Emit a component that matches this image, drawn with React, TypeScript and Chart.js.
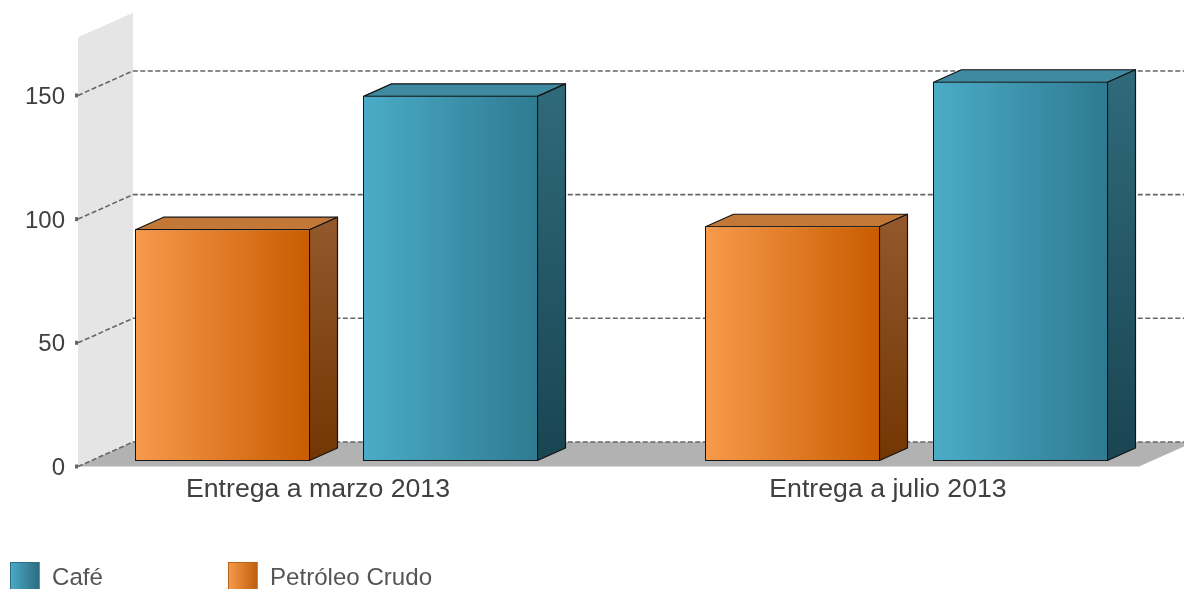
import React, { useEffect, useRef } from "react";
import { Chart, registerables } from "chart.js";

Chart.register(...registerables);

const categories = ["Entrega a marzo 2013", "Entrega a julio 2013"];
const petroleoValues = [93.7, 94.9];
const cafeValues = [147.6, 153.3];
const seriesNames = ["Petróleo Crudo", "Café"];
const yTickStep = 50;
const yMax = 173.5;

const FONT = '"Liberation Sans", Arial, sans-serif';
const WALL = { dx: 55, dy: -24.5 };
const BAR_SHIFT = { x: 18.5, y: -5.5 };
const BAR_DEPTH = { dx: 28, dy: -12.5 };
const SLOT = 228;
const BAR_W = 175;

const palette: Record<string, any> = {
  [seriesNames[0]]: {
    left: "#f89a4c",
    right: "#c85c00",
    top: "#c47838",
    sideTop: "#93592c",
    sideBottom: "#733603",
    swatchRight: "#bf5c0c",
    swatchBorder: "#b9621a",
  },
  [seriesNames[1]]: {
    left: "#4bacc7",
    right: "#2e7a91",
    top: "#3f8aa1",
    sideTop: "#2f6a7b",
    sideBottom: "#1a4552",
    swatchRight: "#2a6a7e",
    swatchBorder: "#2c7086",
  },
};

const frontGradient = (name: string, seriesIndex: number) => (c: any) => {
  const chart = c.chart;
  const xs = chart.scales.x;
  const cx = xs.getPixelForTick(c.dataIndex ?? 0) + (seriesIndex === 0 ? -SLOT / 2 : SLOT / 2);
  const g = chart.ctx.createLinearGradient(cx - BAR_W / 2, 0, cx + BAR_W / 2, 0);
  g.addColorStop(0, palette[name].left);
  g.addColorStop(1, palette[name].right);
  return g;
};

const scene3d = {
  id: "scene3d",
  beforeDatasetsDraw(chart: any) {
    const { ctx, scales } = chart;
    const y = scales.y;
    const x0 = 78;
    const y0 = y.getPixelForValue(0);
    const yTop = y.getPixelForValue(yMax);
    const xFloorRight = 1139;
    ctx.save();
    ctx.fillStyle = "#e5e5e5";
    ctx.beginPath();
    ctx.moveTo(x0, yTop);
    ctx.lineTo(x0 + WALL.dx, yTop + WALL.dy);
    ctx.lineTo(x0 + WALL.dx, y0 + WALL.dy);
    ctx.lineTo(x0, y0);
    ctx.closePath();
    ctx.fill();
    ctx.fillStyle = "#b2b2b2";
    ctx.beginPath();
    ctx.moveTo(x0, y0);
    ctx.lineTo(x0 + WALL.dx, y0 + WALL.dy);
    ctx.lineTo(xFloorRight + WALL.dx, y0 + WALL.dy);
    ctx.lineTo(xFloorRight, y0);
    ctx.closePath();
    ctx.fill();
    ctx.strokeStyle = "#666666";
    ctx.fillStyle = "#666666";
    ctx.lineWidth = 1.6;
    ctx.setLineDash([5, 2.5]);
    y.ticks.forEach((t: any) => {
      const py = y.getPixelForValue(t.value);
      ctx.beginPath();
      ctx.moveTo(x0, py);
      ctx.lineTo(x0 + WALL.dx, py + WALL.dy);
      ctx.lineTo(1184, py + WALL.dy);
      ctx.stroke();
      ctx.fillRect(x0 - 3, py - 2, 3, 4);
    });
    ctx.restore();
  },
  beforeDatasetDraw(chart: any, args: any) {
    const { ctx } = chart;
    const p = palette[chart.data.datasets[args.index].label];
    ctx.save();
    ctx.translate(BAR_SHIFT.x, BAR_SHIFT.y);
    args.meta.data.forEach((el: any) => {
      const l = el.x - el.width / 2 + 0.5;
      const r = el.x + el.width / 2 - 0.5;
      const t = el.y + 0.5;
      const b = el.base - 0.5;
      const { dx, dy } = BAR_DEPTH;
      ctx.lineWidth = 1.2;
      ctx.lineJoin = "round";
      ctx.strokeStyle = "#141414";
      ctx.fillStyle = p.top;
      ctx.beginPath();
      ctx.moveTo(l, t);
      ctx.lineTo(l + dx, t + dy);
      ctx.lineTo(r + dx, t + dy);
      ctx.lineTo(r, t);
      ctx.closePath();
      ctx.fill();
      ctx.stroke();
      const g = ctx.createLinearGradient(0, t + dy, 0, b);
      g.addColorStop(0, p.sideTop);
      g.addColorStop(1, p.sideBottom);
      ctx.fillStyle = g;
      ctx.beginPath();
      ctx.moveTo(r, t);
      ctx.lineTo(r + dx, t + dy);
      ctx.lineTo(r + dx, b + dy);
      ctx.lineTo(r, b);
      ctx.closePath();
      ctx.fill();
      ctx.stroke();
    });
  },
  afterDatasetDraw(chart: any) {
    chart.ctx.restore();
  },
  afterDraw(chart: any) {
    const { ctx } = chart;
    const names = chart.data.datasets.map((d: any) => d.label).reverse();
    const xs = [10, 228];
    ctx.save();
    names.forEach((name: string, i: number) => {
      const p = palette[name];
      const g = ctx.createLinearGradient(xs[i], 0, xs[i] + 30, 0);
      g.addColorStop(0, p.left);
      g.addColorStop(1, p.swatchRight);
      ctx.fillStyle = g;
      ctx.fillRect(xs[i], 562, 29.5, 30);
      ctx.strokeStyle = p.swatchBorder;
      ctx.lineWidth = 1;
      ctx.strokeRect(xs[i] + 0.5, 562.5, 28.5, 30);
      ctx.fillStyle = "#555555";
      ctx.font = `24.1px ${FONT}`;
      ctx.textAlign = "left";
      ctx.textBaseline = "alphabetic";
      ctx.fillText(name, xs[i] + 42, 584.5);
    });
    ctx.restore();
  },
};

export default function App() {
  const ref = useRef<HTMLCanvasElement | null>(null);
  useEffect(() => {
    const chart = new Chart(ref.current as HTMLCanvasElement, {
      type: "bar",
      data: {
        labels: categories,
        datasets: [
          {
            label: seriesNames[0],
            data: petroleoValues,
            backgroundColor: frontGradient(seriesNames[0], 0),
            borderColor: "#141414",
            borderWidth: 1,
            borderSkipped: false,
            clip: false,
          },
          {
            label: seriesNames[1],
            data: cafeValues,
            backgroundColor: frontGradient(seriesNames[1], 1),
            borderColor: "#141414",
            borderWidth: 1,
            borderSkipped: false,
            clip: false,
          },
        ] as any,
      },
      options: {
        animation: false,
        responsive: false,
        events: [],
        datasets: { bar: { categoryPercentage: 0.8, barPercentage: BAR_W / SLOT } },
        layout: { padding: { top: 37.3, right: 11, left: 0, bottom: 0 } },
        plugins: { legend: { display: false }, tooltip: { enabled: false }, title: { display: false } },
        scales: {
          x: {
            grid: { display: false, drawTicks: false },
            border: { display: false },
            ticks: {
              color: "#404040",
              font: { family: FONT, size: 26.7 },
              maxRotation: 0,
              minRotation: 0,
              autoSkip: false,
              padding: 7,
            },
            afterFit: (s: any) => {
              s.height = 122.5;
            },
          },
          y: {
            min: 0,
            max: yMax,
            grid: { display: false, drawTicks: false },
            border: { display: false },
            ticks: {
              stepSize: yTickStep,
              includeBounds: false,
              color: "#404040",
              font: { family: FONT, size: 24 },
              mirror: true,
              crossAlign: "far",
              padding: -8,
              labelOffset: 2,
            },
            afterFit: (s: any) => {
              s.width = 33;
            },
          },
        },
      } as any,
      plugins: [scene3d],
    });
    return () => chart.destroy();
  }, []);
  return (
    <div style={{ position: "absolute", left: 0, top: 0, width: 1184, height: 589, background: "#fff", overflow: "hidden" }}>
      <canvas ref={ref} width={1184} height={589} style={{ display: "block" }} />
    </div>
  );
}
